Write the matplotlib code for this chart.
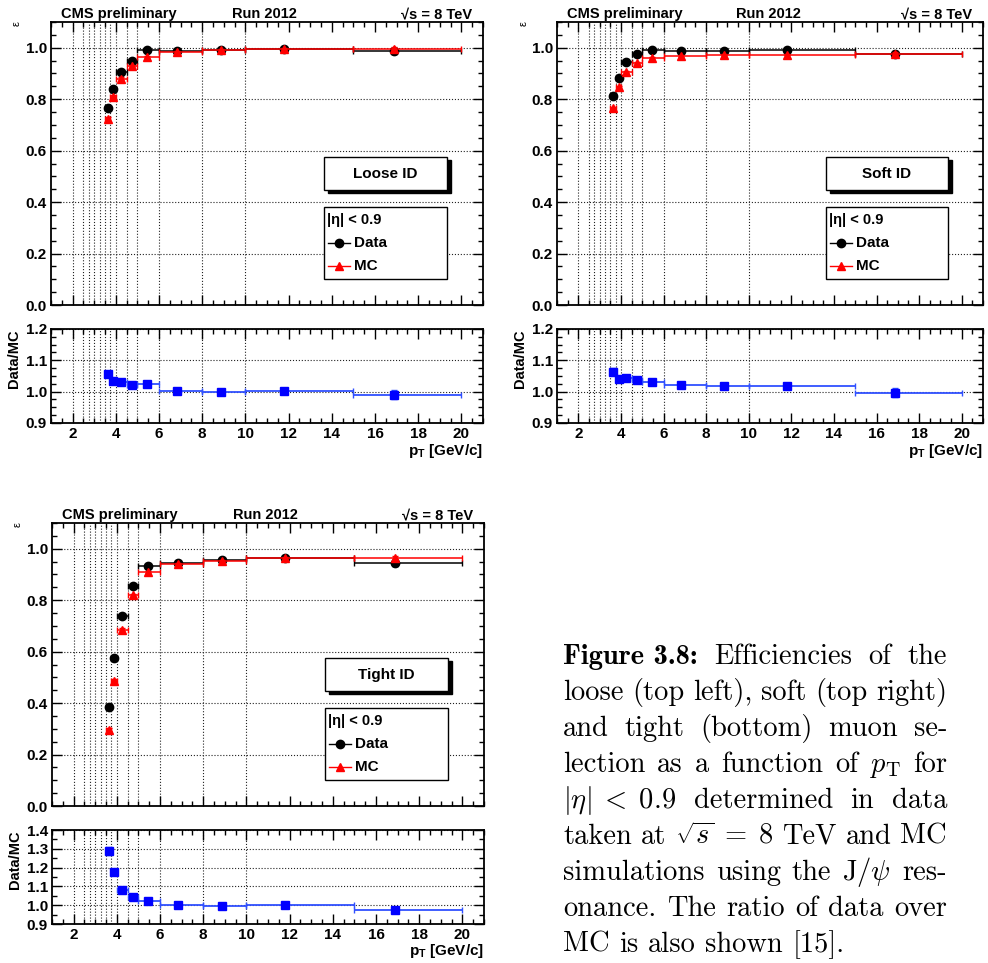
import numpy as np
import matplotlib
matplotlib.use("Agg")
import matplotlib.pyplot as plt
import matplotlib.transforms as mtransforms
from matplotlib.patches import Rectangle
from matplotlib.ticker import MultipleLocator, FormatStrFormatter

# ROOT-ish look: bold Helvetica -> Liberation Sans
plt.rcParams['font.family'] = ['Liberation Sans', 'DejaVu Sans']
plt.rcParams['font.weight'] = 'bold'
plt.rcParams['mathtext.fontset'] = 'custom'
plt.rcParams['mathtext.rm'] = 'Liberation Sans:bold'
plt.rcParams['mathtext.it'] = 'Liberation Sans:bold'
plt.rcParams['mathtext.bf'] = 'Liberation Sans:bold'

W, H = 988, 963

### DATA
# pT bins (GeV/c) and mean pT in each bin
pt_lo = [3.5, 3.75, 4.0, 4.5, 5.0, 6.0, 8.0, 10.0, 15.0]
pt_hi = [3.75, 4.0, 4.5, 5.0, 6.0, 8.0, 10.0, 15.0, 20.0]
pt_mean = [3.63, 3.89, 4.24, 4.74, 5.45, 6.84, 8.86, 11.78, 16.87]

# dotted vertical grid lines (bin edges)
grid_x = [2, 2.5, 2.75, 3, 3.25, 3.5, 3.75, 4, 4.5, 5, 6, 8, 10]

# Loose ID
loose_data = [0.765, 0.839, 0.907, 0.948, 0.990, 0.987, 0.991, 0.996, 0.988]
loose_mc = [0.722, 0.809, 0.880, 0.930, 0.965, 0.983, 0.991, 0.995, 0.996]
loose_ratio = [1.057, 1.034, 1.030, 1.020, 1.024, 1.002, 1.000, 1.001, 0.990]

# Soft ID
soft_data = [0.814, 0.883, 0.944, 0.974, 0.991, 0.988, 0.988, 0.992, 0.975]
soft_mc = [0.764, 0.847, 0.905, 0.941, 0.959, 0.968, 0.971, 0.973, 0.977]
soft_ratio = [1.064, 1.039, 1.044, 1.036, 1.032, 1.020, 1.017, 1.018, 0.997]

# Tight ID
tight_data = [0.385, 0.574, 0.740, 0.854, 0.933, 0.943, 0.956, 0.965, 0.943]
tight_mc = [0.297, 0.486, 0.685, 0.819, 0.908, 0.941, 0.953, 0.963, 0.965]
tight_ratio = [1.287, 1.176, 1.080, 1.041, 1.025, 1.000, 0.998, 1.000, 0.977]

# statistical uncertainties (approx.)
data_err = [0.006, 0.005, 0.004, 0.004, 0.003, 0.003, 0.003, 0.004, 0.012]
mc_err = [0.007, 0.006, 0.005, 0.004, 0.004, 0.003, 0.003, 0.003, 0.006]
ratio_err = [0.010, 0.008, 0.006, 0.005, 0.004, 0.004, 0.004, 0.004, 0.014]
tight_ratio_err = [0.020, 0.014, 0.010, 0.008, 0.006, 0.005, 0.005, 0.005, 0.014]

caption_lines = [
    ["Figure 3.8:", "Efficiencies", "of", "the"],
    ["loose", "(top", "left),", "soft", "(top", "right)"],
    ["and", "tight", "(bottom)", "muon", "se-"],
    ["lection", "as", "a", "function", "of", r"$p_{\mathrm{T}}$", "for"],
    [r"$|\eta|\;<\;0.9$", "determined", "in", "data"],
    ["taken", "at", r"$\sqrt{s}\;=\;8$", "TeV", "and", "MC"],
    ["simulations", "using", "the", r"J$/\psi$", "res-"],
    ["onance.", "The", "ratio", "of", "data", "over"],
    ["MC", "is", "also", "shown", "[15]."],
]


def px_rect(x0, y0, x1, y1):
    # pixel box (top-left origin) -> figure fraction rect
    return [x0 / W, 1 - y1 / H, (x1 - x0) / W, (y1 - y0) / H]


def root_axes(ax):
    for s in ax.spines.values():
        s.set_linewidth(1.3)
    ax.tick_params(which='both', direction='in', top=True, right=True,
                   labelsize=11, width=1)
    ax.tick_params(which='major', length=7, pad=3)
    ax.tick_params(which='minor', length=3.5)
    ax.set_xlim(1, 21)
    ax.xaxis.set_major_locator(MultipleLocator(2))
    ax.xaxis.set_minor_locator(MultipleLocator(0.5))
    ax.yaxis.grid(True, which='major', ls=':', color='#222222', lw=0.8)
    for gx in grid_x:
        ax.axvline(gx, ls=':', color='#222222', lw=0.8, zorder=0)


def draw_panel(main_px, ratio_px, data, mc, ratio, rerr, rlim, rminor, label, xlab_off):
    ax = fig.add_axes(px_rect(*main_px))
    rx = fig.add_axes(px_rect(*ratio_px))
    xerr = [np.array(pt_mean) - np.array(pt_lo), np.array(pt_hi) - np.array(pt_mean)]

    root_axes(ax)
    ax.set_ylim(0, 1.1)
    ax.set_yticks([0.0, 0.2, 0.4, 0.6, 0.8, 1.0])
    ax.yaxis.set_minor_locator(MultipleLocator(0.05))
    ax.yaxis.set_major_formatter(FormatStrFormatter('%.1f'))
    ax.tick_params(labelbottom=False)
    ax.errorbar(pt_mean, data, xerr=xerr, yerr=data_err, fmt='o', color='black',
                ms=6, lw=1.1, capsize=2, zorder=3)
    ax.errorbar(pt_mean, mc, xerr=xerr, yerr=mc_err, fmt='^', color='red',
                ms=6, lw=1.1, capsize=2, zorder=4)

    # header texts
    off = mtransforms.offset_copy(ax.transAxes, fig=fig, y=4, units='dots')
    ax.text(0.023, 1, 'CMS preliminary', transform=off, fontsize=10.5, va='baseline')
    ax.text(0.42, 1, 'Run 2012', transform=off, fontsize=10.5, va='baseline')
    ax.text(0.975, 1, '\u221as = 8 TeV', transform=off, fontsize=10.5,
            va='baseline', ha='right')
    ax.text(-0.079, 1.005, '\u03b5', transform=ax.transAxes, fontsize=8,
            fontweight='normal', rotation=90, ha='center', va='top')

    # ID label box with shadow
    bx0, bx1, by0, by1 = 0.632, 0.917, 0.406, 0.523
    sh = mtransforms.offset_copy(ax.transAxes, fig=fig, x=4, y=-3, units='dots')
    ax.add_patch(Rectangle((bx0, by0), bx1 - bx0, by1 - by0, transform=sh,
                           facecolor='black', edgecolor='black', zorder=5))
    ax.add_patch(Rectangle((bx0, by0), bx1 - bx0, by1 - by0, transform=ax.transAxes,
                           facecolor='white', edgecolor='black', lw=1, zorder=6))
    ax.text((bx0 + bx1) / 2, (by0 + by1) / 2, label, transform=ax.transAxes,
            fontsize=11, ha='center', va='center', zorder=7)

    # legend box
    lx0, lx1, ly0, ly1 = 0.632, 0.917, 0.092, 0.346
    ax.add_patch(Rectangle((lx0, ly0), lx1 - lx0, ly1 - ly0, transform=ax.transAxes,
                           facecolor='white', edgecolor='black', lw=1, zorder=6))
    ax.text(0.639, 0.300, '|\u03b7| < 0.9', transform=ax.transAxes, fontsize=10.5,
            va='center', zorder=7)
    for yy, col, mk, name in [(0.220, 'black', 'o', 'Data'), (0.138, 'red', '^', 'MC')]:
        ax.plot([0.641, 0.692], [yy, yy], color=col, lw=1, transform=ax.transAxes,
                zorder=7)
        ax.plot([0.667], [yy], marker=mk, color=col, ms=6, transform=ax.transAxes,
                zorder=7)
        ax.text(0.701, yy, name, transform=ax.transAxes, fontsize=11,
                va='center', zorder=7)

    # ratio panel
    root_axes(rx)
    rx.set_ylim(*rlim)
    rx.set_yticks(np.round(np.arange(rlim[0], rlim[1] + 0.001, 0.1), 1))
    rx.yaxis.set_minor_locator(MultipleLocator(rminor))
    rx.yaxis.set_major_formatter(FormatStrFormatter('%.1f'))
    rx.xaxis.set_major_formatter(FormatStrFormatter('%d'))
    rx.errorbar(pt_mean, ratio, xerr=xerr, yerr=rerr, fmt='s', color='#0000ff',
                ecolor='#3050ff', ms=6, lw=1.3, capsize=2, zorder=3)
    rx.text(-0.086, 1.0, 'Data/MC', transform=rx.transAxes, fontsize=10.5,
            rotation=90, ha='center', va='top')
    below = mtransforms.offset_copy(rx.transAxes, fig=fig, y=-xlab_off, units='dots')
    rx.text(1.0, 0, r'$p_{T}$ [GeV/c]', transform=below, fontsize=11,
            ha='right', va='baseline')


fig = plt.figure(figsize=(W / 100, H / 100), dpi=100)

draw_panel((51, 22, 483, 305), (51, 329, 483, 423),
           loose_data, loose_mc, loose_ratio, ratio_err, (0.9, 1.2), 0.025, 'Loose ID', 32)
draw_panel((557, 22, 983, 305), (557, 329, 983, 423),
           soft_data, soft_mc, soft_ratio, ratio_err, (0.9, 1.2), 0.025, 'Soft ID', 32)
draw_panel((52, 523, 484, 806), (52, 830, 484, 924),
           tight_data, tight_mc, tight_ratio, tight_ratio_err, (0.9, 1.4), 0.05, 'Tight ID', 31)

# caption, justified like LaTeX
renderer = fig.canvas.get_renderer()
cap_x0, cap_x1 = 563, 947
cap_y0, cap_step = 664, 35.95
cap_size = 20.5
for i, words in enumerate(caption_lines):
    y = 1 - (cap_y0 + i * cap_step) / H
    texts = []
    for j, w in enumerate(words):
        fam = 'cmb10' if (i == 0 and j == 0) else 'cmr10'
        t = fig.text(0, y, w, fontsize=cap_size, family=fam, fontweight='normal',
                     math_fontfamily='cm', va='baseline', ha='left')
        texts.append(t)
    widths = [t.get_window_extent(renderer).width for t in texts]
    if i == len(caption_lines) - 1:
        gap = 0.333 * cap_size * 100 / 72
    else:
        gap = (cap_x1 - cap_x0 - sum(widths)) / (len(words) - 1)
    x = cap_x0
    for t, wd in zip(texts, widths):
        t.set_x(x / W)
        x += wd + gap

fig.savefig('out.png', dpi=100)
